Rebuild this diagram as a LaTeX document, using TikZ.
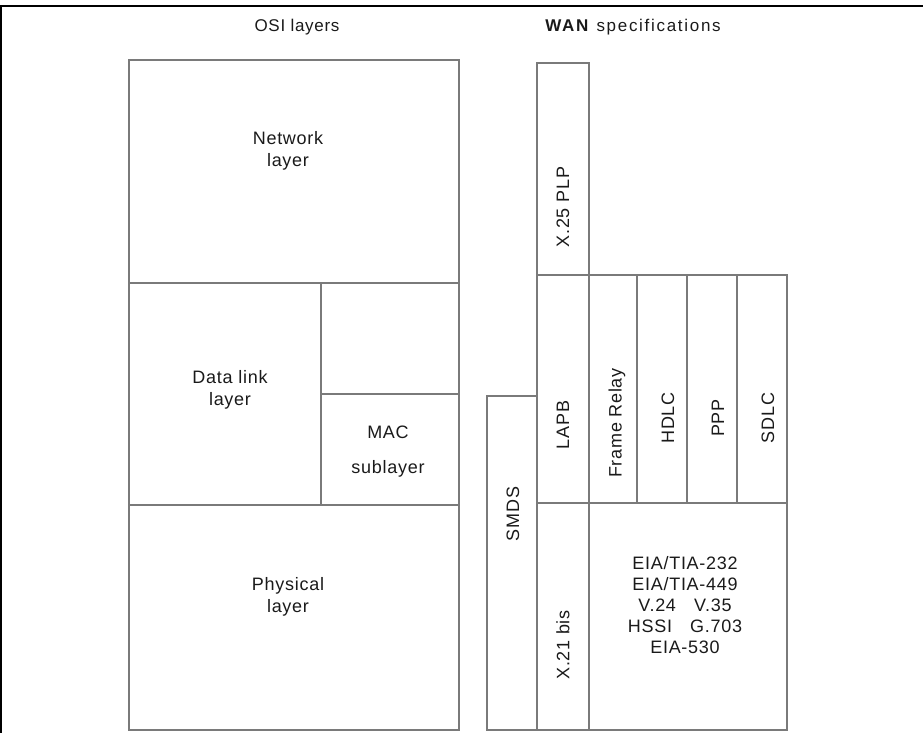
\documentclass[tikz,border=0pt]{standalone}
\usepackage{fontspec}
\setmainfont{Liberation Sans}[LetterSpace=4]
\usetikzlibrary{positioning}
\definecolor{osiline}{HTML}{7A7A7A}
\definecolor{ositext}{HTML}{1A1A1A}

\begin{document}
\begin{tikzpicture}[x=1pt, y=-1pt,
    layerbox/.style={draw=osiline, line width=1.4pt},
    layerlabel/.style={font=\fontsize{18}{22}\selectfont, text=ositext, align=center, inner sep=0pt},
    speclabel/.style={layerlabel, rotate=90},
    headlabel/.style={layerlabel, font=\fontsize{17}{20}\selectfont}]
  \useasboundingbox (0,0) rectangle (923,733);
  % frame
  \draw[line width=2pt] (1,733) -- (1,6) -- (923,6);
  % headings
  \node[headlabel] (osihead) at (297,27) {OSI layers};
  \node[headlabel] (wanhead) at (633,27) {\addfontfeature{LetterSpace=10}\textbf{WAN} specifications};
  % OSI side
  \draw[layerbox] (129,60) rectangle (459,283);
  \draw[layerbox] (129,283) rectangle (321,505);
  \draw[layerbox] (321,283) rectangle (459,394);
  \draw[layerbox] (321,394) rectangle (459,505);
  \draw[layerbox] (129,505) rectangle (459,730);
  \node[layerlabel] (network) at (288,151) {Network\\layer};
  \node[layerlabel] (datalink) at (230,390) {Data link\\layer};
  \node[layerlabel] (mac) at (388,452) {MAC\\[13pt]sublayer};
  \node[layerlabel] (physical) at (288,597) {Physical\\layer};
  % WAN side
  \draw[layerbox] (537,63) rectangle (589,275);
  \foreach \xa/\xb in {537/589, 589/637, 637/687, 687/737, 737/787}
    \draw[layerbox] (\xa,275) rectangle (\xb,503);
  \draw[layerbox] (487,396) rectangle (537,730);
  \draw[layerbox] (537,503) rectangle (589,730);
  \draw[layerbox] (589,503) rectangle (787,730);
  \node[speclabel] (x25) at (563,207) {X.25 PLP};
  \node[speclabel] (lapb) at (563,425) {LAPB};
  \node[speclabel] (frame) at (617,423) {Frame Relay};
  \node[speclabel] (hdlc) at (668,418) {HDLC};
  \node[speclabel] (ppp) at (718,418) {PPP};
  \node[speclabel] (sdlc) at (768,418) {SDLC};
  \node[speclabel] (smds) at (513,514) {SMDS};
  \node[speclabel] (x21) at (563,645) {X.21 bis};
  \node[layerlabel, font=\fontsize{18}{21}\selectfont] (eia) at (685,605)
    {EIA/TIA-232\\EIA/TIA-449\\V.24\quad V.35\\HSSI\quad G.703\\EIA-530};
\end{tikzpicture}
\end{document}
